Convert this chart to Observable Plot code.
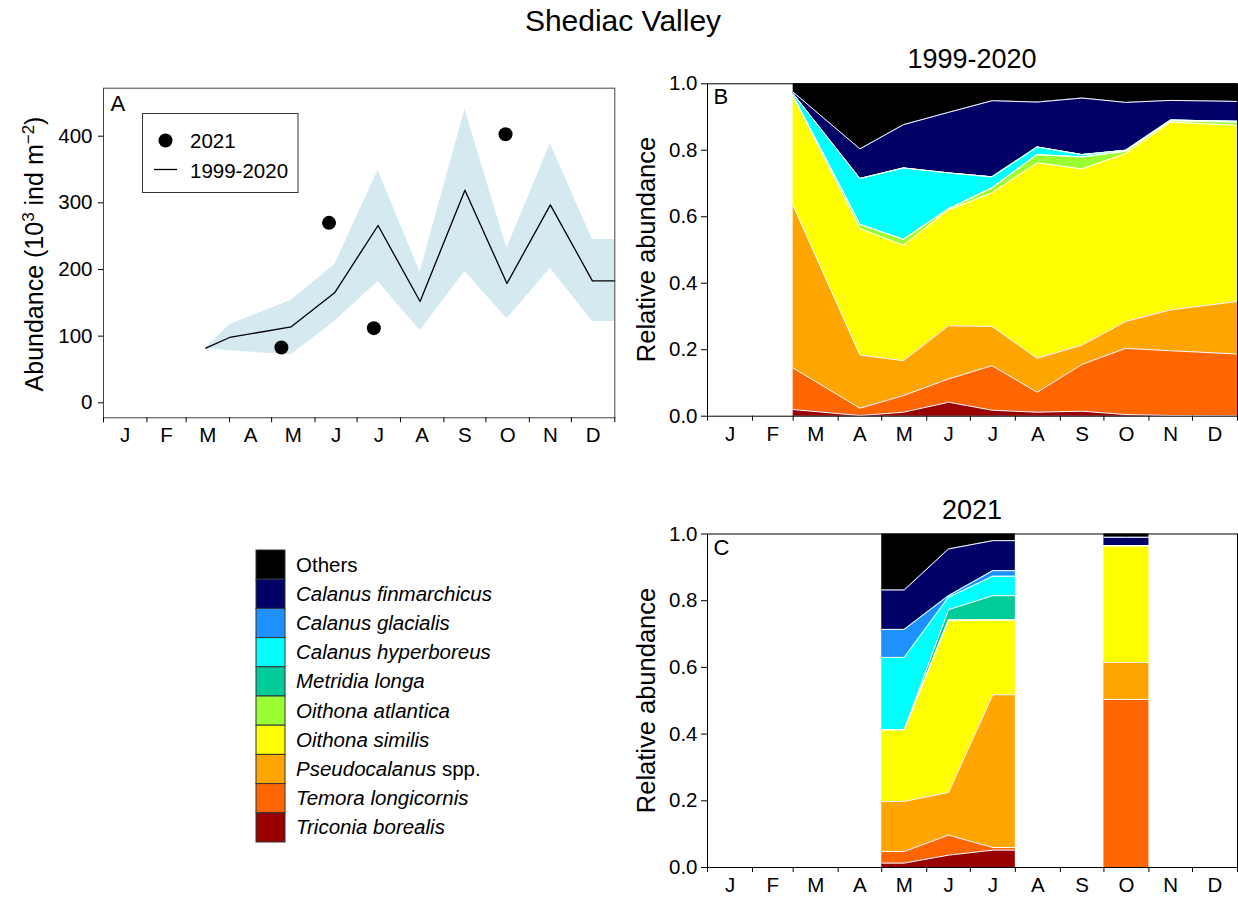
<!DOCTYPE html>
<html>
<head>
<meta charset="utf-8">
<script src="https://cdn.jsdelivr.net/npm/d3@7"></script>
<script src="https://cdn.jsdelivr.net/npm/@observablehq/plot@0.6"></script>
<style>
  body { margin: 0; background: #fff; }
  #page { position: relative; width: 1238px; height: 900px; overflow: hidden; background: #fff; }
  .panel { position: absolute; }
  #overlay { position: absolute; left: 0; top: 0; z-index: 2; pointer-events: none; }
</style>
</head>
<body>
<div id="page"></div>
<script>
const FONT = '"Liberation Sans", Arial, Helvetica, sans-serif';

// ---- calendar ----
const monthLetters = ["J", "F", "M", "A", "M", "J", "J", "A", "S", "O", "N", "D"];
const monthStarts = [0, 31, 59, 90, 120, 151, 181, 212, 243, 273, 304, 334, 365];

// ---- panel A: total abundance (10^3 ind m^-2) ----
const climDay  = [73, 90, 134, 165, 196, 226, 258, 288, 319, 349];
const climMean = [82, 98, 114, 165, 266, 152, 319, 179, 297, 183];
const climLow  = [82, 78, 72, 122, 182, 108, 197, 126, 202, 122];
const climHigh = [82, 117, 154, 207, 349, 196, 440, 232, 389, 245];
const obsDay   = [127, 161, 193, 287];
const obsAbund = [83, 270, 112, 403];

// ---- species (legend order, top of stack first) ----
const species = [
  "Others", "Calanus finmarchicus", "Calanus glacialis", "Calanus hyperboreus",
  "Metridia longa", "Oithona atlantica", "Oithona similis", "Pseudocalanus spp.",
  "Temora longicornis", "Triconia borealis"
];
const speciesColors = [
  "#000000", "#000066", "#1e90ff", "#00ffff", "#00cc99",
  "#99ff33", "#ffff00", "#ffa500", "#ff6600", "#990000"
];

// ---- panel B: 1999-2020 relative abundance ----
const climCompDay = [59, 105, 135, 166, 196, 227, 258, 288, 319, 365];
const climOthers  = [0.025, 0.196, 0.123, 0.086, 0.051, 0.055, 0.043, 0.056, 0.050, 0.053];
const climCfin    = [0.005, 0.089, 0.130, 0.182, 0.229, 0.135, 0.170, 0.144, 0.059, 0.060];
const climCgla    = [0, 0, 0, 0, 0, 0, 0, 0, 0, 0];
const climChyp    = [0.006, 0.138, 0.215, 0.108, 0.033, 0.023, 0.007, 0.003, 0.002, 0.002];
const climMlon    = [0, 0, 0, 0, 0, 0, 0, 0, 0, 0];
const climOatl    = [0.002, 0.013, 0.018, 0.004, 0.015, 0.025, 0.036, 0.007, 0.005, 0.010];
const climOsim    = [0.328, 0.380, 0.347, 0.348, 0.402, 0.588, 0.530, 0.505, 0.564, 0.530];
const climPseu    = [0.489, 0.160, 0.105, 0.160, 0.118, 0.102, 0.058, 0.081, 0.123, 0.158];
const climTlon    = [0.125, 0.022, 0.050, 0.070, 0.134, 0.060, 0.141, 0.199, 0.195, 0.186];
const climTbor    = [0.020, 0.002, 0.012, 0.042, 0.018, 0.012, 0.015, 0.005, 0.002, 0.001];

// ---- panel C: 2021 relative abundance (sampled months, 0 = January) ----
const obsMonth  = [4, 5, 6, 9];
const obsOthers = [0.168, 0.045, 0.020, 0.010];
const obsCfin   = [0.118, 0.140, 0.090, 0.025];
const obsCgla   = [0.084, 0.005, 0.017, 0];
const obsChyp   = [0.217, 0.037, 0.058, 0];
const obsMlon   = [0, 0.030, 0.073, 0];
const obsOatl   = [0, 0.003, 0, 0];
const obsOsim   = [0.215, 0.515, 0.224, 0.350];
const obsPseu   = [0.150, 0.128, 0.458, 0.111];
const obsTlon   = [0.035, 0.060, 0.008, 0.504];
const obsTbor   = [0.013, 0.037, 0.052, 0];

// ---- helpers ----
const monthMids = monthLetters.map((_, i) => (monthStarts[i] + monthStarts[i + 1]) / 2);
const stackOrder = species.slice().reverse();   // bottom of stack first

const climSeries = [climOthers, climCfin, climCgla, climChyp, climMlon, climOatl, climOsim, climPseu, climTlon, climTbor];
const obsSeries  = [obsOthers, obsCfin, obsCgla, obsChyp, obsMlon, obsOatl, obsOsim, obsPseu, obsTlon, obsTbor];

const climComp = [];
species.forEach((sp, s) => climCompDay.forEach((d, i) => climComp.push({species: sp, day: d, value: climSeries[s][i]})));

// group consecutive sampled months into runs; each run spans from the start
// of its first month to the end of its last month
const runs = [];
obsMonth.forEach((m, i) => {
  const last = runs[runs.length - 1];
  if (last && obsMonth[last[last.length - 1]] === m - 1) last.push(i); else runs.push([i]);
});
const obsRuns = runs.map(run => {
  const rows = [];
  species.forEach((sp, s) => {
    const first = run[0], lastI = run[run.length - 1];
    rows.push({species: sp, day: monthStarts[obsMonth[first]], value: obsSeries[s][first]});
    run.forEach(i => rows.push({species: sp, day: monthMids[obsMonth[i]], value: obsSeries[s][i]}));
    rows.push({species: sp, day: monthStarts[obsMonth[lastI] + 1], value: obsSeries[s][lastI]});
  });
  return rows;
});

const climRows = climDay.map((d, i) => ({day: d, mean: climMean[i], low: climLow[i], high: climHigh[i]}));
// December's climatology carries through to the end of the year
climRows.push({...climRows[climRows.length - 1], day: 365});
const obsRows = obsDay.map((d, i) => ({day: d, abund: obsAbund[i]}));

const TICK_FS = 20.5;
const baseStyle = {fontFamily: FONT, fontSize: TICK_FS + "px", color: "#000", background: "transparent", overflow: "visible"};

function monthAxes() {
  return [
    Plot.axisX({ticks: monthStarts, tickSize: 5, tickFormat: () => "", label: null}),
    Plot.axisX({ticks: monthMids, tickSize: 0, tickPadding: 10, label: null,
                tickFormat: d => monthLetters[monthMids.indexOf(d)], fontSize: TICK_FS})
  ];
}

function stackedMarks(rows) {
  return [
    Plot.areaY(rows, {x: "day", y: "value", fill: "species", order: stackOrder}),
    Plot.lineY(rows, Plot.stackY2({x: "day", y: "value", z: "species", order: stackOrder,
      stroke: "#fff", strokeWidth: 1, filter: d => d.species !== "Others"}))
  ];
}

const colorScale = {domain: species, range: speciesColors};

// ---- panel A ----
const plotA = Plot.plot({
  width: 630, height: 400,
  marginLeft: 103, marginRight: 15.7, marginTop: 27.7, marginBottom: 42.7,
  x: {domain: [0, 365]},
  y: {domain: [-22.5, 472]},
  style: baseStyle,
  marks: [
    Plot.areaY(climRows, {x: "day", y1: "low", y2: "high", fill: "#d4e9f0"}),
    Plot.lineY(climRows, {x: "day", y: "mean", stroke: "#000", strokeWidth: 1.3}),
    Plot.dot(obsRows, {x: "day", y: "abund", r: 7, fill: "#000", stroke: "none"}),
    Plot.frame({stroke: "#444"}),
    Plot.axisY({ticks: [0, 100, 200, 300, 400], tickSize: 5, tickPadding: 6, label: null, fontSize: TICK_FS}),
    ...monthAxes(),
    Plot.text(["A"], {frameAnchor: "top-left", dx: 7, dy: 7, lineAnchor: "top", fontSize: 22})
  ]
});

// ---- panel B ----
const plotB = Plot.plot({
  width: 608, height: 400,
  marginLeft: 77, marginRight: 1, marginTop: 23.3, marginBottom: 44.3,
  x: {domain: [0, 365]},
  y: {domain: [0, 1]},
  color: colorScale,
  style: baseStyle,
  marks: [
    ...stackedMarks(climComp),
    Plot.frame({stroke: "#000"}),
    Plot.axisY({ticks: [0, 0.2, 0.4, 0.6, 0.8, 1], tickFormat: d3.format(".1f"), tickSize: 6, tickPadding: 4, label: null, fontSize: TICK_FS}),
    ...monthAxes(),
    Plot.text(["B"], {frameAnchor: "top-left", dx: 6, dy: 5, lineAnchor: "top", fontSize: 22})
  ]
});

// ---- panel C ----
const plotC = Plot.plot({
  width: 608, height: 390,
  marginLeft: 77, marginRight: 1, marginTop: 23.5, marginBottom: 33,
  x: {domain: [0, 365]},
  y: {domain: [0, 1]},
  color: colorScale,
  style: baseStyle,
  marks: [
    ...obsRuns.flatMap(rows => stackedMarks(rows)),
    Plot.frame({stroke: "#000"}),
    Plot.axisY({ticks: [0, 0.2, 0.4, 0.6, 0.8, 1], tickFormat: d3.format(".1f"), tickSize: 6, tickPadding: 4, label: null, fontSize: TICK_FS}),
    ...monthAxes(),
    Plot.text(["C"], {frameAnchor: "top-left", dx: 6, dy: 5, lineAnchor: "top", fontSize: 22})
  ]
});

const page = document.getElementById("page");
[[plotA, 0, 60], [plotB, 630, 60], [plotC, 630, 510]].forEach(([svg, left, top]) => {
  const div = document.createElement("div");
  div.className = "panel";
  div.style.left = left + "px";
  div.style.top = top + "px";
  div.appendChild(svg);
  page.appendChild(div);
});

// ---- titles, axis titles and legends ----
const overlay = d3.select(page).append("svg")
  .attr("id", "overlay")
  .attr("width", 1238).attr("height", 900)
  .style("font-family", FONT);

overlay.append("text").attr("x", 623).attr("y", 31).attr("text-anchor", "middle")
  .attr("font-size", 30).text("Shediac Valley");
overlay.append("text").attr("x", 972).attr("y", 68).attr("text-anchor", "middle")
  .attr("font-size", 27).text("1999-2020");
overlay.append("text").attr("x", 972).attr("y", 519).attr("text-anchor", "middle")
  .attr("font-size", 27).text("2021");

// y-axis titles
const yTitleA = overlay.append("text")
  .attr("transform", "translate(43,254) rotate(-90)")
  .attr("text-anchor", "middle").attr("font-size", 25);
yTitleA.append("tspan").text("Abundance (10");
yTitleA.append("tspan").attr("dy", -9).attr("font-size", 17).text("3");
yTitleA.append("tspan").attr("dy", 9).text(" ind m");
yTitleA.append("tspan").attr("dy", -9).attr("font-size", 17).text("\u22122");
yTitleA.append("tspan").attr("dy", 9).text(")");

[[249.5], [700.5]].forEach(([cy]) => {
  overlay.append("text")
    .attr("transform", `translate(655,${cy}) rotate(-90)`)
    .attr("text-anchor", "middle").attr("font-size", 25.5)
    .text("Relative abundance");
});

// legend inside panel A
const legA = overlay.append("g");
legA.append("rect").attr("x", 142.5).attr("y", 113.5).attr("width", 155.5).attr("height", 79)
  .attr("fill", "#fff").attr("stroke", "#333").attr("stroke-width", 1);
legA.append("circle").attr("cx", 165.5).attr("cy", 140.5).attr("r", 7).attr("fill", "#000");
legA.append("text").attr("x", 190).attr("y", 148).attr("font-size", 20.5).text("2021");
legA.append("line").attr("x1", 154).attr("x2", 177).attr("y1", 169.5).attr("y2", 169.5)
  .attr("stroke", "#000").attr("stroke-width", 1.3);
legA.append("text").attr("x", 190).attr("y", 178).attr("font-size", 20.5).text("1999-2020");

// species legend
const rowH = 29.2, legTop = 550;
const legS = overlay.append("g");
species.forEach((sp, i) => {
  const y = legTop + i * rowH;
  legS.append("rect").attr("x", 256).attr("y", y).attr("width", 29).attr("height", rowH)
    .attr("fill", speciesColors[i]).attr("stroke", "#333").attr("stroke-width", 1);
  const t = legS.append("text").attr("x", 296).attr("y", y + rowH / 2 + 7).attr("font-size", 20.5);
  if (sp === "Others") {
    t.text(sp);
  } else if (sp.endsWith(" spp.")) {
    t.append("tspan").attr("font-style", "italic").text(sp.replace(" spp.", ""));
    t.append("tspan").text(" spp.");
  } else {
    t.attr("font-style", "italic").text(sp);
  }
});
</script>
</body>
</html>
